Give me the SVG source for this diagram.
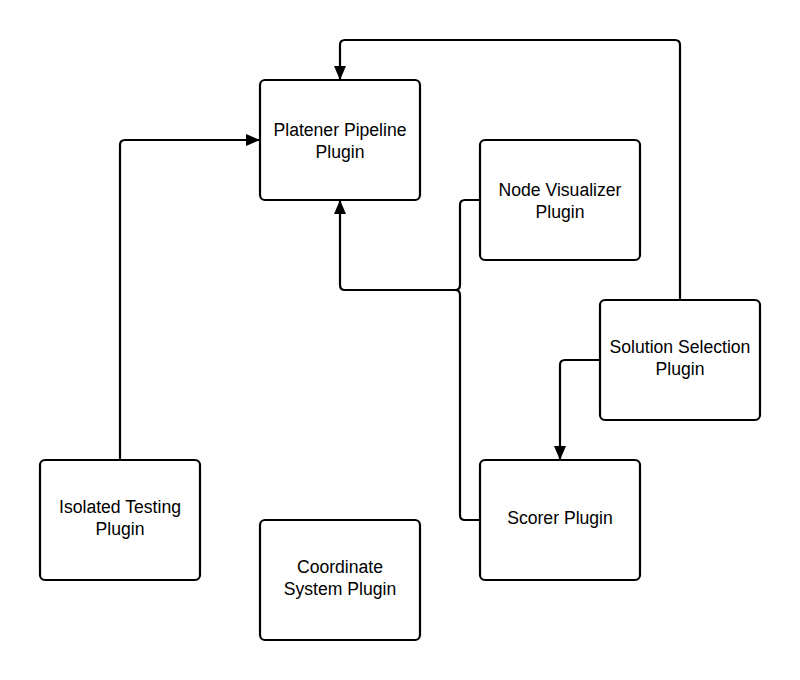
<svg xmlns="http://www.w3.org/2000/svg" width="800" height="680" viewBox="0 0 800 680">
<style>
.box{fill:#fff;stroke:#000;stroke-width:2.2}
.lbl{font-family:"Liberation Sans",Arial,sans-serif;font-size:17.6px;fill:#000;text-anchor:middle}
.c{fill:none;stroke:#000;stroke-width:2.2;stroke-linejoin:round}
</style>
<defs>
<marker id="arr" viewBox="0 0 14 12" refX="14" refY="6" markerWidth="14" markerHeight="12" markerUnits="userSpaceOnUse" orient="auto">
<path d="M0,0 L14,6 L0,12 Z" fill="#000"/>
</marker>
</defs>
<rect width="800" height="680" fill="#fff"/>
<g id="connectors">
<path class="c" d="M120,460 V145 Q120,140 125,140 H260" marker-end="url(#arr)"/>
<path class="c" d="M680,300 V45 Q680,40 675,40 H345 Q340,40 340,45 V80" marker-end="url(#arr)"/>
<path class="c" d="M480,200 H465 Q460,200 460,205 V285 Q460,290 455,290 H345 Q340,290 340,285 V200" marker-end="url(#arr)"/>
<path class="c" d="M480,520 H465 Q460,520 460,515 V295 Q460,290 455,290"/>
<path class="c" d="M600,360 H565 Q560,360 560,365 V460" marker-end="url(#arr)"/>
</g>
<g id="platener"><rect class="box" x="260" y="80" width="160" height="120" rx="5"/><text class="lbl" x="340" y="136">Platener Pipeline</text><text class="lbl" x="340" y="158">Plugin</text></g>
<g id="nodevis"><rect class="box" x="480" y="140" width="160" height="120" rx="5"/><text class="lbl" x="560" y="196">Node Visualizer</text><text class="lbl" x="560" y="218">Plugin</text></g>
<g id="solution"><rect class="box" x="600" y="300" width="160" height="120" rx="5"/><text class="lbl" x="680" y="353">Solution Selection</text><text class="lbl" x="680" y="375">Plugin</text></g>
<g id="scorer"><rect class="box" x="480" y="460" width="160" height="120" rx="5"/><text class="lbl" x="560" y="524">Scorer Plugin</text></g>
<g id="isolated"><rect class="box" x="40" y="460" width="160" height="120" rx="5"/><text class="lbl" x="120" y="513">Isolated Testing</text><text class="lbl" x="120" y="535">Plugin</text></g>
<g id="coordinate"><rect class="box" x="260" y="520" width="160" height="120" rx="5"/><text class="lbl" x="340" y="573">Coordinate</text><text class="lbl" x="340" y="595">System Plugin</text></g>
</svg>
